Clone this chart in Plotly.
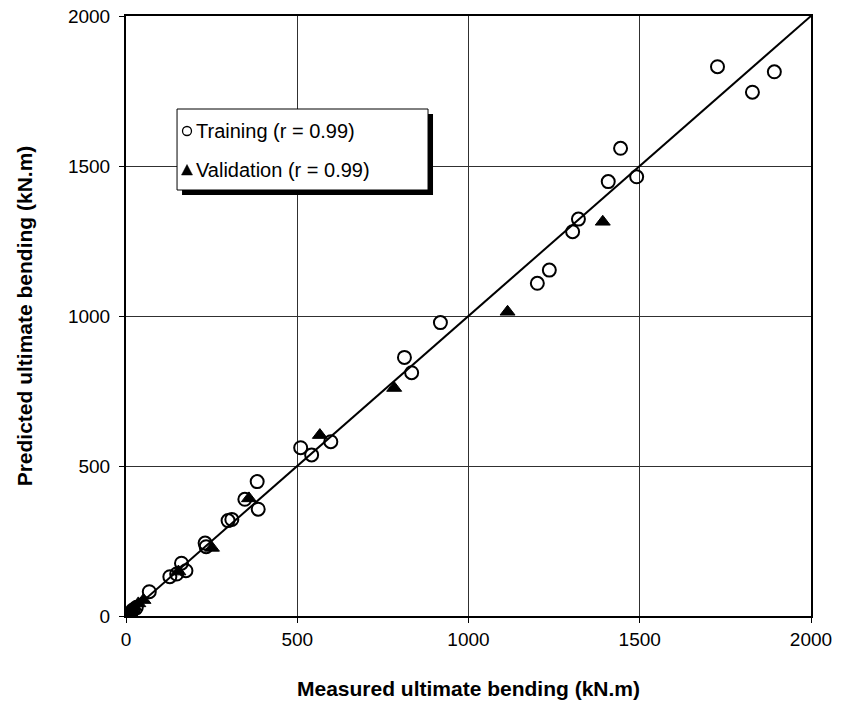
import plotly.graph_objects as go

# Training data (measured, predicted) in kN.m
train_measured = [1727, 1893, 1829, 1444, 1491, 1408, 1321, 1304, 1236, 1201,
                  918, 813, 834, 598, 510, 542, 383, 386, 347, 309, 298,
                  234, 231, 128, 148, 162, 175, 68, 30, 20, 15, 10, 5]
train_predicted = [1831, 1814, 1746, 1559, 1464, 1448, 1323, 1281, 1153, 1109,
                   978, 862, 811, 581, 561, 537, 448, 356, 389, 322, 318,
                   231, 243, 131, 140, 176, 151, 81, 28, 20, 12, 8, 5]

# Validation data
val_measured = [1392, 1114, 783, 566, 359, 251, 153, 51, 36, 25, 20, 12, 8, 3]
val_predicted = [1314, 1014, 760, 603, 392, 227, 148, 53, 42, 30, 18, 6, 10, 2]

# Line of equality
ref_line = [0, 2000]

tick_vals = [0, 500, 1000, 1500, 2000]
tick_text = ["0", "500", "1000", "1500", "2000"]

legend_labels = ["Training (r = 0.99)", "Validation (r = 0.99)"]

FONT = "Arial, Liberation Sans, sans-serif"

fig = go.Figure()
fig.add_trace(go.Scatter(x=ref_line, y=ref_line, mode="lines",
                         line=dict(color="black", width=2),
                         showlegend=False, hoverinfo="skip"))
fig.add_trace(go.Scatter(x=train_measured, y=train_predicted, mode="markers",
                         name=legend_labels[0], showlegend=False,
                         marker=dict(symbol="circle-open", size=13,
                                     color="black", line=dict(width=2, color="black"))))
fig.add_trace(go.Scatter(x=val_measured, y=val_predicted, mode="markers",
                         name=legend_labels[1], showlegend=False,
                         marker=dict(symbol="triangle-up", size=13, color="black",
                                     line=dict(width=1, color="black"))))

axis_common = dict(range=[0, 2000], tickvals=tick_vals, ticktext=tick_text,
                   showgrid=True, gridcolor="#303030", gridwidth=1,
                   showline=True, linecolor="black", linewidth=2, mirror=True,
                   ticks="outside", ticklen=5, tickcolor="black",
                   tickfont=dict(family=FONT, size=19, color="black"),
                   zeroline=False, fixedrange=True, automargin=False)

fig.update_xaxes(**axis_common,
                 title=dict(text="<b>Measured ultimate bending (kN.m)</b>",
                            font=dict(family=FONT, size=21, color="black"),
                            standoff=33))
fig.update_yaxes(**axis_common, ticklabelstandoff=5,
                 title=dict(text="<b>Predicted ultimate bending (kN.m)</b>",
                            font=dict(family=FONT, size=21, color="black"),
                            standoff=30))

# Manual legend box with drop shadow (paper coordinates)
shapes = [
    dict(type="rect", xref="paper", yref="paper", x0=0.0818, x1=0.4482,
         y0=0.7017, y1=0.8367, fillcolor="black", line=dict(width=0), layer="above"),
    dict(type="rect", xref="paper", yref="paper", x0=0.0745, x1=0.4409,
         y0=0.710, y1=0.845, fillcolor="white", line=dict(color="black", width=1),
         layer="above"),
    # legend circle symbol
    dict(type="circle", xref="paper", yref="paper", xsizemode="pixel", ysizemode="pixel",
         xanchor=(187 - 126) / 685, yanchor=(616 - 131) / 600,
         x0=-4.5, x1=4.5, y0=-4.5, y1=4.5,
         line=dict(color="black", width=1.3), fillcolor="white", layer="above"),
    # legend triangle symbol
    dict(type="path", xref="paper", yref="paper", xsizemode="pixel", ysizemode="pixel",
         xanchor=(187 - 126) / 685, yanchor=(616 - 170) / 600,
         path="M -5.5 -5 L 5.5 -5 L 0 5.5 Z",
         line=dict(color="black", width=0.5), fillcolor="black", layer="above"),
]

annotations = [
    dict(text=legend_labels[0], xref="paper", yref="paper",
         x=(194 - 126) / 685, y=(616 - 131) / 600, xanchor="left", yanchor="middle",
         showarrow=False, font=dict(family=FONT, size=20, color="black")),
    dict(text=legend_labels[1], xref="paper", yref="paper",
         x=(194 - 126) / 685, y=(616 - 170) / 600, xanchor="left", yanchor="middle",
         showarrow=False, font=dict(family=FONT, size=20, color="black")),
]

fig.update_layout(width=842, height=715,
                  margin=dict(l=126, r=31, t=16, b=99),
                  paper_bgcolor="white", plot_bgcolor="white",
                  shapes=shapes, annotations=annotations,
                  showlegend=False)

fig.write_html("out.html", config={"displayModeBar": False},
               post_script="document.body.style.margin='0px';"
                           "document.body.style.overflow='hidden';")
